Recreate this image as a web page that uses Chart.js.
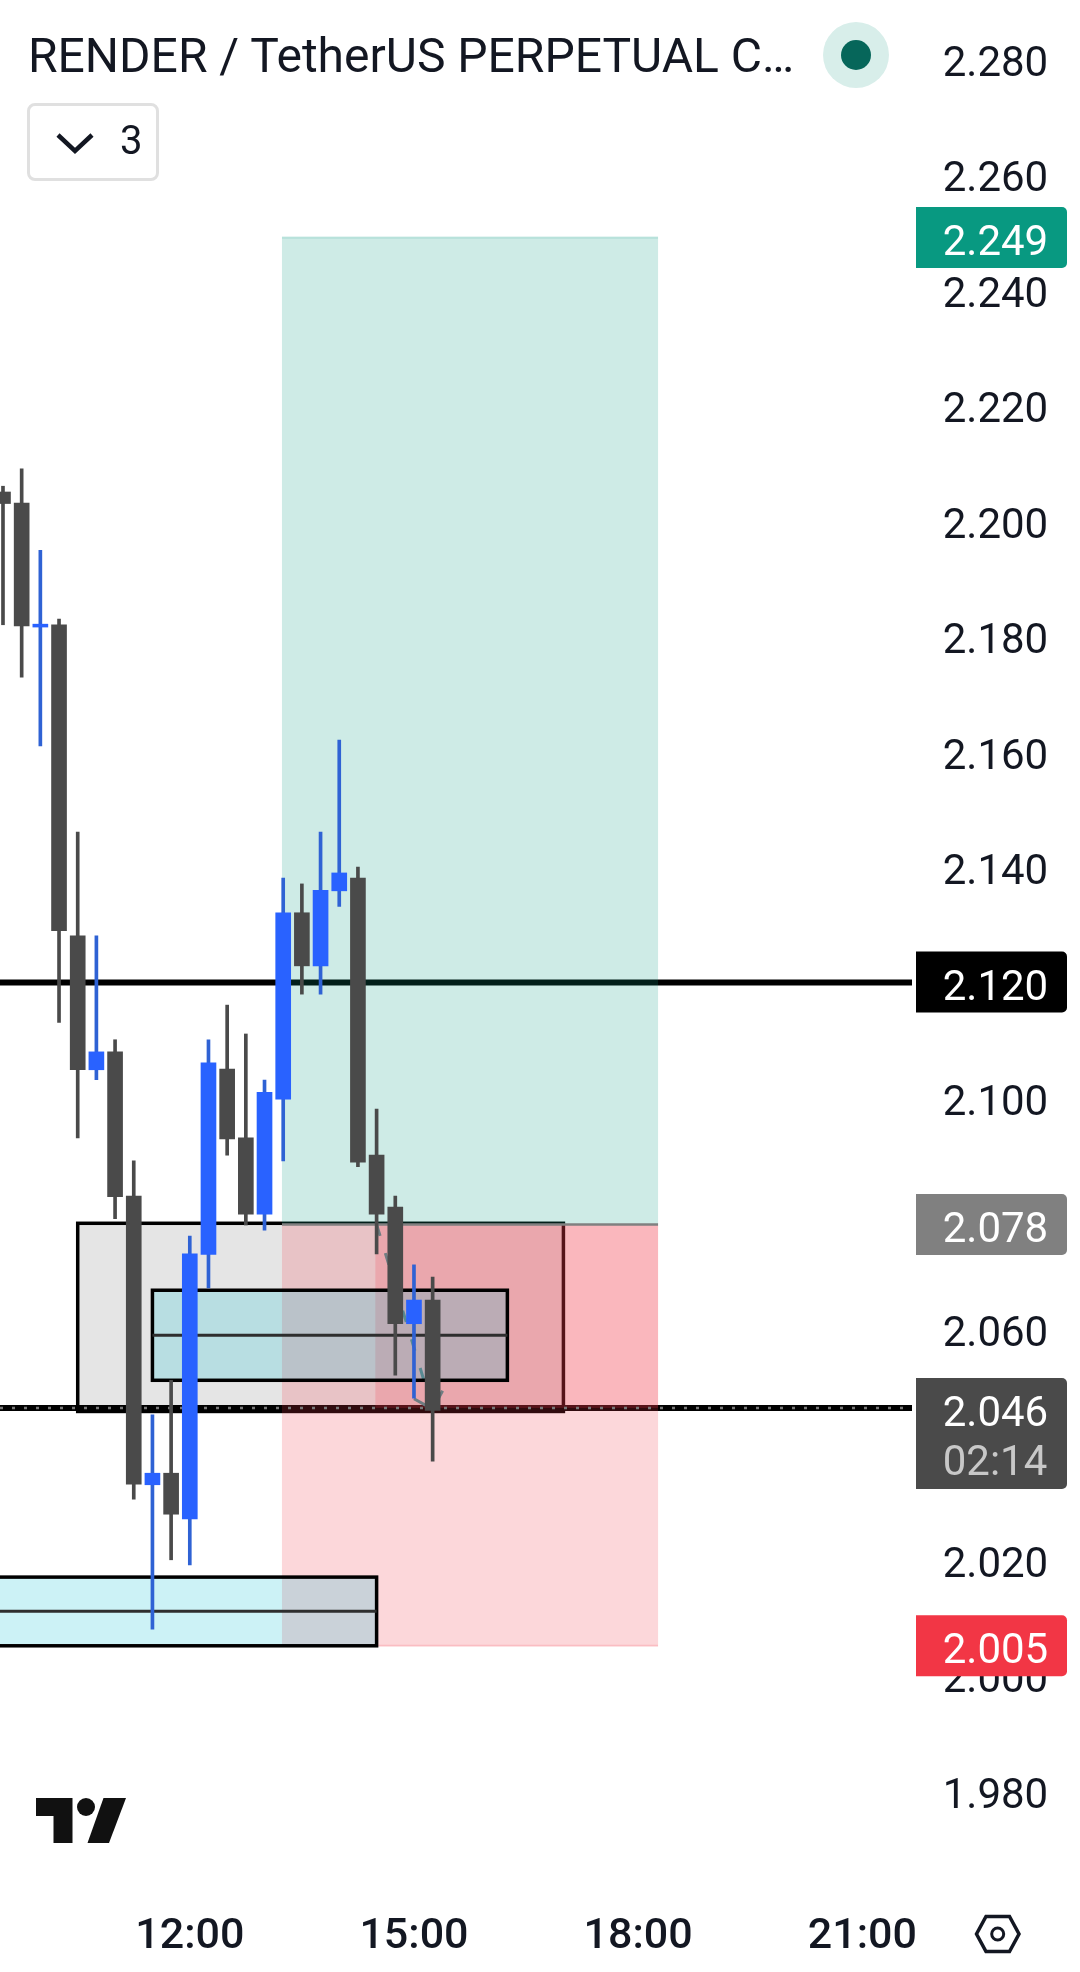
<!DOCTYPE html>
<html>
<head>
<meta charset="utf-8">
<title>RENDER / TetherUS</title>
<script src="https://cdn.jsdelivr.net/npm/chart.js@4"></script>
<style>
    html, body { margin: 0; padding: 0; background: #fff; }
    #wrap { position: relative; width: 1080px; height: 1972px; overflow: hidden; font-family: Roboto, sans-serif; color: #131722; }
    canvas { position: absolute; left: 0; top: 0; }
    #title { position: absolute; left: 28px; top: 29px; font-size: 48px; line-height: 54px; white-space: nowrap; }
    #dot { position: absolute; left: 823px; top: 22px; width: 66px; height: 66px; border-radius: 50%; background: #d8eeea; }
    #dot div { position: absolute; left: 18px; top: 18px; width: 30px; height: 30px; border-radius: 50%; background: #06665a; }
    #legendBox { position: absolute; left: 27px; top: 103px; width: 126px; height: 72px; border: 3px solid #e0e0e0; border-radius: 8px; }
    #legendBox span { position: absolute; left: 90px; top: 10px; font-size: 40px; line-height: 50px; }
    #icons { position: absolute; left: 0; top: 0; }
</style>
</head>
<body>
<div id="wrap">
    <canvas id="chart" width="1080" height="1972"></canvas>
    <div id="title">RENDER / TetherUS PERPETUAL C…</div>
    <div id="dot"><div></div></div>
    <div id="legendBox"><span>3</span></div>
    <svg id="icons" width="1080" height="1972">
        <polyline points="58,135 75,151 92,135" fill="none" stroke="#131722" stroke-width="4.5"/>
        <path d="M36 1798H72.5V1843H53.5V1816H36Z" fill="#111"/>
        <circle cx="86" cy="1807" r="9" fill="#111"/>
        <path d="M103.5 1798H126L109 1843H87.5Z" fill="#111"/>
        <path d="M986 1916.5H1009.5L1019 1934L1009.5 1951.5H986L976.5 1934Z" fill="none" stroke="#131722" stroke-width="3.5"/>
        <circle cx="997.7" cy="1934" r="6" fill="none" stroke="#131722" stroke-width="3"/>
    </svg>
</div>
<script>
// minutes since midnight, 15m candles
const times = [570, 585, 600, 615, 630, 645, 660, 675, 690, 705, 720, 735, 750, 765, 780, 795, 810, 825, 840, 855, 870, 885, 900, 915];
const opens = [2.2049, 2.2030, 2.1815, 2.1819, 2.1280, 2.1048, 2.1079, 2.0829, 2.0329, 2.0349, 2.0270, 2.0728, 2.1049, 2.0930, 2.0798, 2.0997, 2.1320, 2.1228, 2.1358, 2.1380, 2.0900, 2.0810, 2.0608, 2.0649];
const highs = [2.2059, 2.2089, 2.1948, 2.1829, 2.1460, 2.1280, 2.1100, 2.0890, 2.0450, 2.0510, 2.0760, 2.1100, 2.1160, 2.1110, 2.1030, 2.1380, 2.1370, 2.1460, 2.1619, 2.1399, 2.0980, 2.0829, 2.0710, 2.0689];
const lows = [2.1819, 2.1728, 2.1609, 2.1130, 2.0930, 2.1031, 2.0790, 2.0304, 2.0079, 2.0199, 2.0190, 2.0670, 2.0900, 2.0779, 2.0770, 2.0890, 2.1179, 2.1179, 2.1331, 2.0880, 2.0729, 2.0519, 2.0479, 2.0370];
const closes = [2.2029, 2.1817, 2.1820, 2.1289, 2.1048, 2.1079, 2.0828, 2.0330, 2.0349, 2.0278, 2.0729, 2.1060, 2.0928, 2.0798, 2.1009, 2.1320, 2.1228, 2.1359, 2.1389, 2.0888, 2.0798, 2.0608, 2.0649, 2.0458];

const priceTicks = [2.28, 2.26, 2.24, 2.22, 2.20, 2.18, 2.16, 2.14, 2.12, 2.10, 2.08, 2.06, 2.04, 2.02, 2.00, 1.98];
const hiddenPriceTicks = [2.08, 2.04];
const timeTicks = [720, 900, 1080, 1260];
const timeLabels = ['12:00', '15:00', '18:00', '21:00'];

// position tool + drawn levels
const stopTop = 2.078, targetPrice = 2.249, stopPrice = 2.005, lastPrice = 2.0462, levelPrice = 2.1199;
const toolStart = 794, toolEnd = 1096, toolProgress = 869;
const grayBox = [630, 1020, 2.0782, 2.0456];
const tealBoxes = [[690, 975, 2.0666, 2.0510, 2.0588], [480, 870, 2.0169, 2.0050, 2.0110]];
const arrowFrom = [870, 2.078], arrowTo = [915, 2.046], arrowWingA = [900, 2.0478], arrowWingB = [923, 2.0492];

const badgeValues = [2.249, 2.120, 2.078, 2.005];
const badgeColors = ['#089981', '#000000', '#808080', '#f23645'];

const BLUE = '#2962ff', BLUE_WICK = '#2f62d4', DARK = '#4a4a4a';
const isUp = times.map((t, i) => closes[i] >= opens[i]);

const layers = {
    id: 'layers',
    beforeDatasetsDraw(chart) {
        const { ctx, chartArea, scales: { x, y } } = chart;
        const rect = (t0, t1, p0, p1) => [x.getPixelForValue(t0), y.getPixelForValue(p0), x.getPixelForValue(t1) - x.getPixelForValue(t0), y.getPixelForValue(p1) - y.getPixelForValue(p0)];
        const hline = (p, t0, t1, color, width) => {
            ctx.strokeStyle = color;
            ctx.lineWidth = width;
            ctx.beginPath();
            ctx.moveTo(x.getPixelForValue(t0), y.getPixelForValue(p));
            ctx.lineTo(x.getPixelForValue(t1), y.getPixelForValue(p));
            ctx.stroke();
        };
        ctx.save();
        ctx.beginPath();
        ctx.rect(chartArea.left, chartArea.top, chartArea.width, chartArea.height);
        ctx.clip();

        // black levels
        hline(levelPrice, x.min, x.max, '#000', 6);
        hline(lastPrice, x.min, x.max, '#000', 6);

        // gray box
        ctx.fillStyle = 'rgba(0,0,0,0.1)';
        ctx.fillRect(...rect(grayBox[0], grayBox[1], grayBox[2], grayBox[3]));
        ctx.strokeStyle = '#000';
        ctx.lineWidth = 3.5;
        ctx.strokeRect(...rect(grayBox[0], grayBox[1], grayBox[2], grayBox[3]));

        // position tool
        ctx.fillStyle = 'rgba(8,153,129,0.2)';
        ctx.fillRect(...rect(toolStart, toolEnd, targetPrice, stopTop));
        ctx.fillStyle = 'rgba(242,54,69,0.2)';
        ctx.fillRect(...rect(toolStart, toolEnd, stopTop, stopPrice));
        ctx.fillRect(...rect(toolProgress, toolEnd, stopTop, lastPrice));
        hline(targetPrice, toolStart, toolEnd, 'rgba(8,153,129,0.2)', 2);
        hline(stopPrice, toolStart, toolEnd, 'rgba(242,54,69,0.2)', 2);
        hline(stopTop, toolStart, toolEnd, '#808080', 2.5);

        // arrow
        ctx.strokeStyle = '#6f7d82';
        ctx.lineWidth = 3;
        ctx.setLineDash([12, 18]);
        ctx.beginPath();
        ctx.moveTo(x.getPixelForValue(arrowFrom[0]), y.getPixelForValue(arrowFrom[1]));
        ctx.lineTo(x.getPixelForValue(arrowTo[0]), y.getPixelForValue(arrowTo[1]));
        ctx.stroke();
        ctx.setLineDash([]);
        ctx.beginPath();
        ctx.moveTo(x.getPixelForValue(arrowWingA[0]), y.getPixelForValue(arrowWingA[1]));
        ctx.lineTo(x.getPixelForValue(arrowTo[0]), y.getPixelForValue(arrowTo[1]));
        ctx.lineTo(x.getPixelForValue(arrowWingB[0]), y.getPixelForValue(arrowWingB[1]));
        ctx.stroke();

        // teal boxes
        tealBoxes.forEach(b => {
            ctx.fillStyle = 'rgba(0,188,212,0.2)';
            ctx.fillRect(...rect(b[0], b[1], b[2], b[3]));
            ctx.strokeStyle = '#000';
            ctx.lineWidth = 3.5;
            ctx.strokeRect(...rect(b[0], b[1], b[2], b[3]));
            hline(b[4], b[0], b[1], '#2e2e2e', 3);
        });

        // last price dots
        ctx.setLineDash([3, 9]);
        hline(lastPrice, x.min, x.max, '#777', 2.5);
        ctx.restore();
    }
};

const badges = {
    id: 'badges',
    afterDraw(chart) {
        const { ctx, scales: { y } } = chart;
        const drawBadge = (top, height, color) => {
            ctx.fillStyle = color;
            ctx.beginPath();
            ctx.roundRect(916, top, 151, height, [0, 5, 5, 0]);
            ctx.fill();
        };
        ctx.save();
        ctx.font = '42px Roboto';
        ctx.textBaseline = 'middle';
        ctx.textAlign = 'left';
        badgeValues.forEach((v, i) => {
            const py = y.getPixelForValue(v);
            drawBadge(py - 30.5, 61, badgeColors[i]);
            ctx.fillStyle = '#fff';
            ctx.fillText(v.toFixed(3), 942.7, py + 7);
        });
        const py = y.getPixelForValue(lastPrice);
        drawBadge(py - 30, 111, DARK);
        ctx.fillStyle = '#fff';
        ctx.fillText(lastPrice.toFixed(3), 942.7, py + 8);
        ctx.fillStyle = '#c8c8c8';
        ctx.fillText('02:14', 942.7, py + 57);
        ctx.restore();
    }
};

new Chart(document.getElementById('chart'), {
    type: 'bar',
    data: {
        datasets: [
            {
                label: 'bodies',
                order: 1,
                barThickness: 15,
                grouped: false,
                borderWidth: 0,
                backgroundColor: isUp.map(up => up ? BLUE : DARK),
                data: times.map((t, i) => ({ x: t, y: [opens[i], closes[i]] }))
            },
            {
                label: 'wicks',
                order: 2,
                barThickness: 3,
                grouped: false,
                borderWidth: 0,
                backgroundColor: isUp.map(up => up ? BLUE_WICK : DARK),
                data: times.map((t, i) => ({ x: t, y: [lows[i], highs[i]] }))
            }
        ]
    },
    options: {
        responsive: false,
        animation: false,
        devicePixelRatio: 1,
        layout: { padding: 0 },
        plugins: { legend: { display: false }, tooltip: { enabled: false } },
        scales: {
            x: {
                type: 'linear',
                offset: false,
                min: 567.6,
                max: 1299.9,
                grid: { display: false, drawTicks: false },
                border: { display: false },
                afterBuildTicks: scale => { scale.ticks = timeTicks.map(v => ({ value: v })); },
                afterFit: scale => { scale.height = 82; scale.paddingLeft = 0; scale.paddingRight = 0; },
                ticks: {
                    autoSkip: false,
                    maxRotation: 0,
                    padding: 21,
                    color: '#131722',
                    font: { family: 'Roboto', size: 43, weight: '500' },
                    callback: (value, index) => timeLabels[index]
                }
            },
            y: {
                position: 'right',
                min: 1.96269,
                max: 2.29014,
                beginAtZero: false,
                grid: { display: false, drawTicks: false },
                border: { display: false },
                afterBuildTicks: scale => { scale.ticks = priceTicks.filter(v => !hiddenPriceTicks.includes(v)).map(v => ({ value: v })); },
                afterFit: scale => { scale.width = 168; scale.paddingTop = 0; scale.paddingBottom = 0; },
                ticks: {
                    autoSkip: false,
                    padding: 30.7,
                    labelOffset: 7,
                    color: '#131722',
                    font: { family: 'Roboto', size: 42 },
                    callback: value => value.toFixed(3)
                }
            }
        }
    },
    plugins: [layers, badges]
});
</script>
</body>
</html>
